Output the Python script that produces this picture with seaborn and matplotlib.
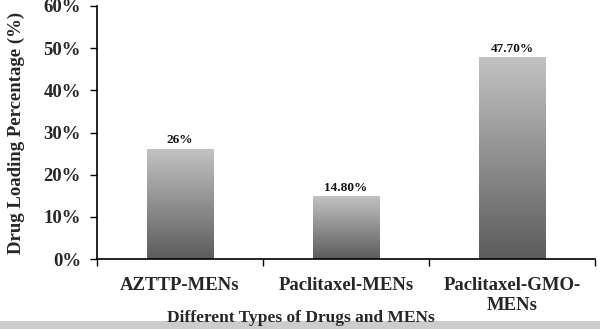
import numpy as np
import pandas as pd
import matplotlib
matplotlib.use("Agg")
import matplotlib.pyplot as plt
import seaborn as sns
from matplotlib.colors import LinearSegmentedColormap
from matplotlib.patches import Rectangle
from matplotlib.ticker import FixedLocator, PercentFormatter

categories = ["AZTTP-MENs", "Paclitaxel-MENs", "Paclitaxel-GMO-\nMENs"]
values = [26.0, 14.8, 47.7]
value_labels = ["26%", "14.80%", "47.70%"]
yticks = [0, 10, 20, 30, 40, 50, 60]

sns.set_theme(style="white")
plt.rcParams["font.family"] = ["Liberation Serif", "DejaVu Serif"]
plt.rcParams["font.weight"] = "bold"

df = pd.DataFrame({"cat": categories, "val": values})

fig = plt.figure(figsize=(6.0, 3.29), dpi=100)
ax = fig.add_axes([97/600, (329-259)/329, (595-97)/600, (259-6)/329])

sns.barplot(data=df, x="cat", y="val", ax=ax, width=0.4, color="#888888", saturation=1)

cmap = LinearSegmentedColormap.from_list("g", ["#5c5c5c", "#c2c2c2"])
grad = np.linspace(0, 1, 256).reshape(-1, 1)
for p in ax.patches:
    x, w, h = p.get_x(), p.get_width(), p.get_height()
    p.set_visible(False)
    ax.imshow(grad, extent=[x, x + w, 0, h], origin="lower", aspect="auto",
              cmap=cmap, zorder=2, interpolation="bilinear")

for i, (v, lab) in enumerate(zip(values, value_labels)):
    ax.text(i, v + 0.7, lab, ha="center", va="bottom", fontsize=9.5,
            fontweight="bold", color="#111111")

ax.set_xlim(-0.5, 2.5)
ax.set_ylim(0, 60)
ax.set_yticks(yticks)
ax.yaxis.set_major_formatter(PercentFormatter(decimals=0))

n = len(categories)
ax.xaxis.set_major_locator(FixedLocator([i - 0.5 for i in range(n + 1)]))
ax.xaxis.set_minor_locator(FixedLocator(list(range(n))))
ax.set_xticklabels([], minor=False)
ax.set_xticklabels(categories, minor=True, fontsize=13.5, fontweight="bold",
                   linespacing=1.2, va="top")
ax.tick_params(axis="x", which="major", direction="out", length=5, width=1,
               color="black", bottom=True)
ax.tick_params(axis="x", which="minor", length=0, pad=13, bottom=True)
ax.tick_params(axis="y", direction="out", length=5, width=1, color="black",
               left=True, pad=6.5, labelsize=13.5)
for t in ax.get_yticklabels():
    t.set_fontweight("bold")

for s in ["top", "right"]:
    ax.spines[s].set_visible(False)
for s in ["left", "bottom"]:
    ax.spines[s].set_color("black")
    ax.spines[s].set_linewidth(1.2)

ax.set_xlabel("")
ax.set_ylabel("Drug Loading Percentage (%)", fontsize=13.5, fontweight="bold",
              labelpad=13.5)

fig.text(301/600, (329-318)/329, "Different Types of Drugs and MENs",
         ha="center", va="center", fontsize=12.5, fontweight="bold")

fig.patches.append(Rectangle((0, 0), 1, (329-321)/329, transform=fig.transFigure,
                             facecolor="#cccccc", edgecolor="none", zorder=-1))

fig.savefig("out.png", dpi=100)
